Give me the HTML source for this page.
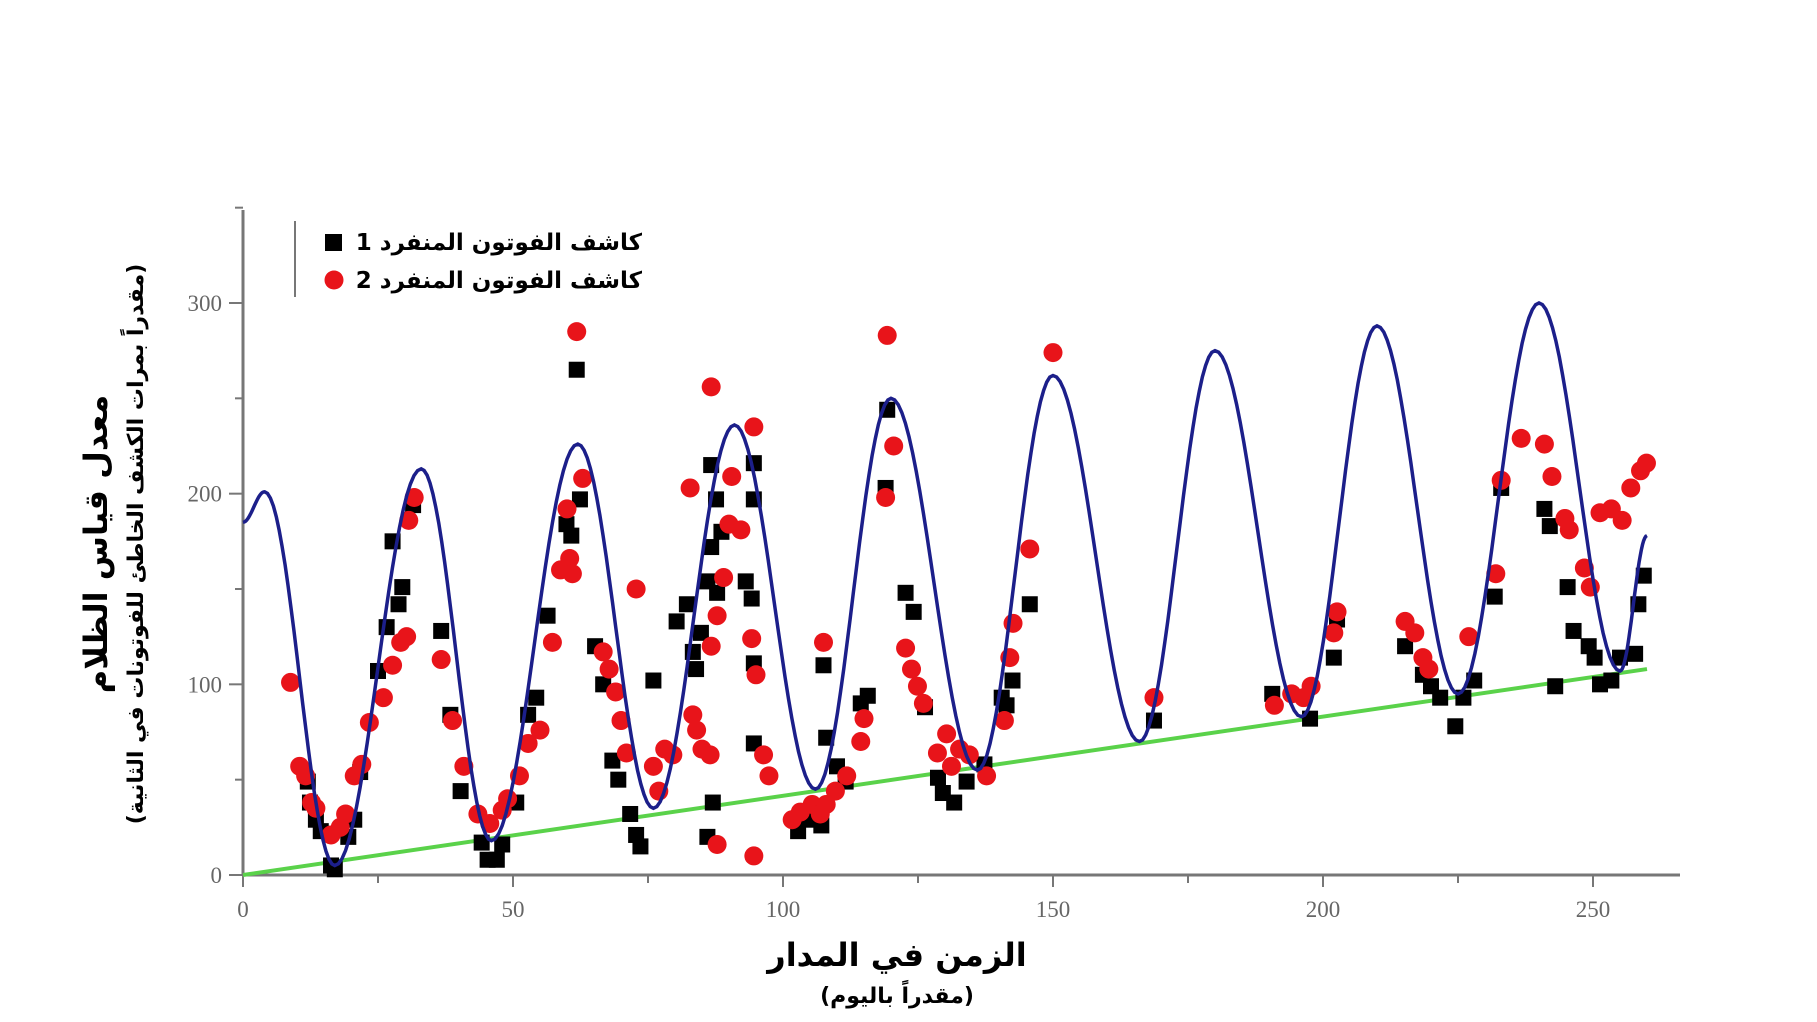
<!DOCTYPE html>
<html><head><meta charset="utf-8"><style>
html,body{margin:0;padding:0;background:#fff;}
svg{display:block;}
.tick{font-family:"Liberation Serif",serif;font-size:23px;fill:#666;}
.ar{font-family:"DejaVu Sans",sans-serif;font-weight:bold;fill:#000;direction:rtl;}
</style></head><body>
<svg id="chart" width="1817" height="1022" viewBox="0 0 1817 1022">
<g id="axes"></g>
<g id="plot"></g>
<g>
<line x1="295" y1="221" x2="295" y2="297" stroke="#777" stroke-width="2"/>
<rect x="325" y="234" width="17" height="17" fill="#000"/>
<text class="ar" x="642" y="250" font-size="23" text-anchor="start">كاشف الفوتون المنفرد 1</text>
<circle cx="334" cy="280" r="9.5" fill="#e8141a"/>
<text class="ar" x="642" y="288" font-size="23" text-anchor="start">كاشف الفوتون المنفرد 2</text>
</g>
<text class="ar" transform="translate(107,544) rotate(-90)" font-size="32" text-anchor="middle">معدل قياس الظلام</text>
<text class="ar" transform="translate(143,544) rotate(-90)" font-size="22" text-anchor="middle">(مقدراً بمرات الكشف الخاطئ للفوتونات في الثانية)</text>
<text class="ar" x="897" y="966" font-size="32" text-anchor="middle">الزمن في المدار</text>
<text class="ar" x="897" y="1003" font-size="22" text-anchor="middle">(مقدراً باليوم)</text>
</svg>
<script>
const xTicks=[0,50,100,150,200,250];
const yTicks=[0,100,200,300];
const fitExtT=[0,4,17,33,46,62,76,91,106,120,136,150,166,180,196,210,225,240,255,260];
const fitExtV=[185,201,5,213,18,226,35,236,45,250,55,262,70,275,83,288,95,300,107,178];
const baseX=[0,260];
const baseY=[0,108];
const d1x=[12,12.4,13.5,14.4,16.3,17,19.5,20.6,21.7,25,26.6,27.7,28.8,29.5,31.5,36.7,38.4,40.3,44.2,45.3,47,48,50.6,52.8,54.3,56.4,59.9,60.8,62.4,61.8,65.2,66.7,68.4,69.5,71.7,72.8,73.6,76,80.3,82.2,83.3,83.9,84.8,86,86.7,87.6,88.6,86.7,87.8,86,87,93.1,94.2,94.6,94.6,94.6,94.6,102.8,104.3,107.1,107.5,108,110,111.6,114.4,115.7,119.3,119,122.7,124.2,126.3,128.7,129.6,131.7,134,137.3,140.5,141.4,142.5,145.7,168.7,190.6,197.6,202,202.6,215.2,218.5,220,221.7,224.5,226,228,231.8,233,241,242,243,245.3,246.4,249.2,250.3,251.3,253.4,255,257.8,258.4,259.4];
const d1y=[49,38,29,23,5,3,20,29,54,107,130,175,142,151,194,128,84,44,17,8,8,16,38,84,93,136,184,178,197,265,120,100,60,50,32,21,15,102,133,142,117,108,127,154,215,197,180,172,148,20,38,154,145,216,197,111,69,23,29,26,110,72,57,49,90,94,244,203,148,138,88,51,43,38,49,58,93,89,102,142,81,95,82,114,134,120,105,99,93,78,93,102,146,203,192,183,99,151,128,120,114,100,102,114,116,142,157];
const d2x=[8.8,10.5,11.6,12.7,13.5,16.3,18,19,20.6,22,23.4,26,27.7,29.2,30.3,30.7,31.7,36.7,38.8,40.9,43.5,45.7,48,49,51.2,52.8,55,57.3,58.8,60.5,61,60,61.8,62.9,66.7,67.8,69,70,71,72.8,76,77,78.1,79.6,82.8,83.3,84,85,86.5,86.7,87.8,86.7,90.5,90,92.2,89,87.8,94.6,94.2,95,94.6,96.4,97.4,101.7,103.2,105.4,106.9,107.5,108,109.7,111.8,114.4,115,119.3,119,120.5,122.7,123.8,124.9,126,128.6,130.3,131.2,132.7,134.5,137.7,141,142,142.6,145.7,150,168.7,191,194.2,196.4,197.8,202,202.6,215.2,217,218.5,219.6,227,233,232,236.7,241,242.4,244.8,245.6,248.4,249.5,251.3,253.4,255.4,257,258.8,259.9];
const d2y=[101,57,52,38,35,21,25,32,52,58,80,93,110,122,125,186,198,113,81,57,32,27,34,40,52,69,76,122,160,166,158,192,285,208,117,108,96,81,64,150,57,44,66,63,203,84,76,66,63,256,136,120,209,184,181,156,16,235,124,105,10,63,52,29,33,37,32,122,37,44,52,70,82,283,198,225,119,108,99,90,64,74,57,66,63,52,81,114,132,171,274,93,89,95,93,99,127,138,133,127,114,108,125,207,158,229,226,209,187,181,161,151,190,192,186,203,212,216];

const NS='http://www.w3.org/2000/svg';
const X0=243,XS=270/50,Y0=875,YS=(875-303)/300;
function sx(v){return X0+v*XS;}
function sy(v){return Y0-v*YS;}
function mk(tag,attrs,parent){const e=document.createElementNS(NS,tag);for(const k in attrs)e.setAttribute(k,attrs[k]);parent.appendChild(e);return e;}
const axes=document.getElementById('axes'),plot=document.getElementById('plot');

let el=mk('line',{x1:sx(0),y1:Y0,x2:1680,y2:Y0,stroke:'#777','stroke-width':3},axes);


el=mk('line',{x1:X0,y1:Y0,x2:X0,y2:210,stroke:'#777','stroke-width':3},axes);


for(let v=0;v<=260;v+=25){const major=v%50===0;
 el=mk('line',{x1:sx(v),y1:Y0,x2:sx(v),y2:Y0+(major?12:8),stroke:'#777','stroke-width':2},axes);
 
 }
xTicks.forEach(v=>{el=mk('text',{x:sx(v),y:Y0+42,'text-anchor':'middle',class:'tick'},axes);el.textContent=v;
 
 });
for(let v=0;v<=350;v+=50){const major=v%100===0;
 el=mk('line',{x1:X0,y1:sy(v),x2:X0-(major?14:8),y2:sy(v),stroke:'#777','stroke-width':2},axes);
 
 }
yTicks.forEach(v=>{el=mk('text',{x:222,y:sy(v)+8,'text-anchor':'end',class:'tick'},axes);el.textContent=v;
 
 });

let pts=[];
for(let i=0;i<fitExtT.length-1;i++){const t0=fitExtT[i],t1=fitExtT[i+1],v0=fitExtV[i],v1=fitExtV[i+1];
 for(let k=0;k<=24;k++){const f=k/24,t=t0+(t1-t0)*f;const w=(1-Math.cos(Math.PI*f))/2;pts.push(sx(t).toFixed(1)+','+sy(v0+(v1-v0)*w).toFixed(1));}}

el=mk('line',{x1:sx(baseX[0]),y1:sy(baseY[0]),x2:sx(baseX[1]),y2:sy(baseY[1]),stroke:'#5ad24a','stroke-width':4},plot);


d1x.forEach((x,i)=>{el=mk('rect',{x:sx(x)-8,y:sy(d1y[i])-8,width:16,height:16,fill:'#000'},plot);
 
 });
d2x.forEach((x,i)=>{el=mk('circle',{cx:sx(x),cy:sy(d2y[i]),r:9.5,fill:'#e8141a'},plot);
 
 });
el=mk('polyline',{points:pts.join(' '),fill:'none',stroke:'#1c1f8a','stroke-width':3.5},plot);


</script>
</body></html>
